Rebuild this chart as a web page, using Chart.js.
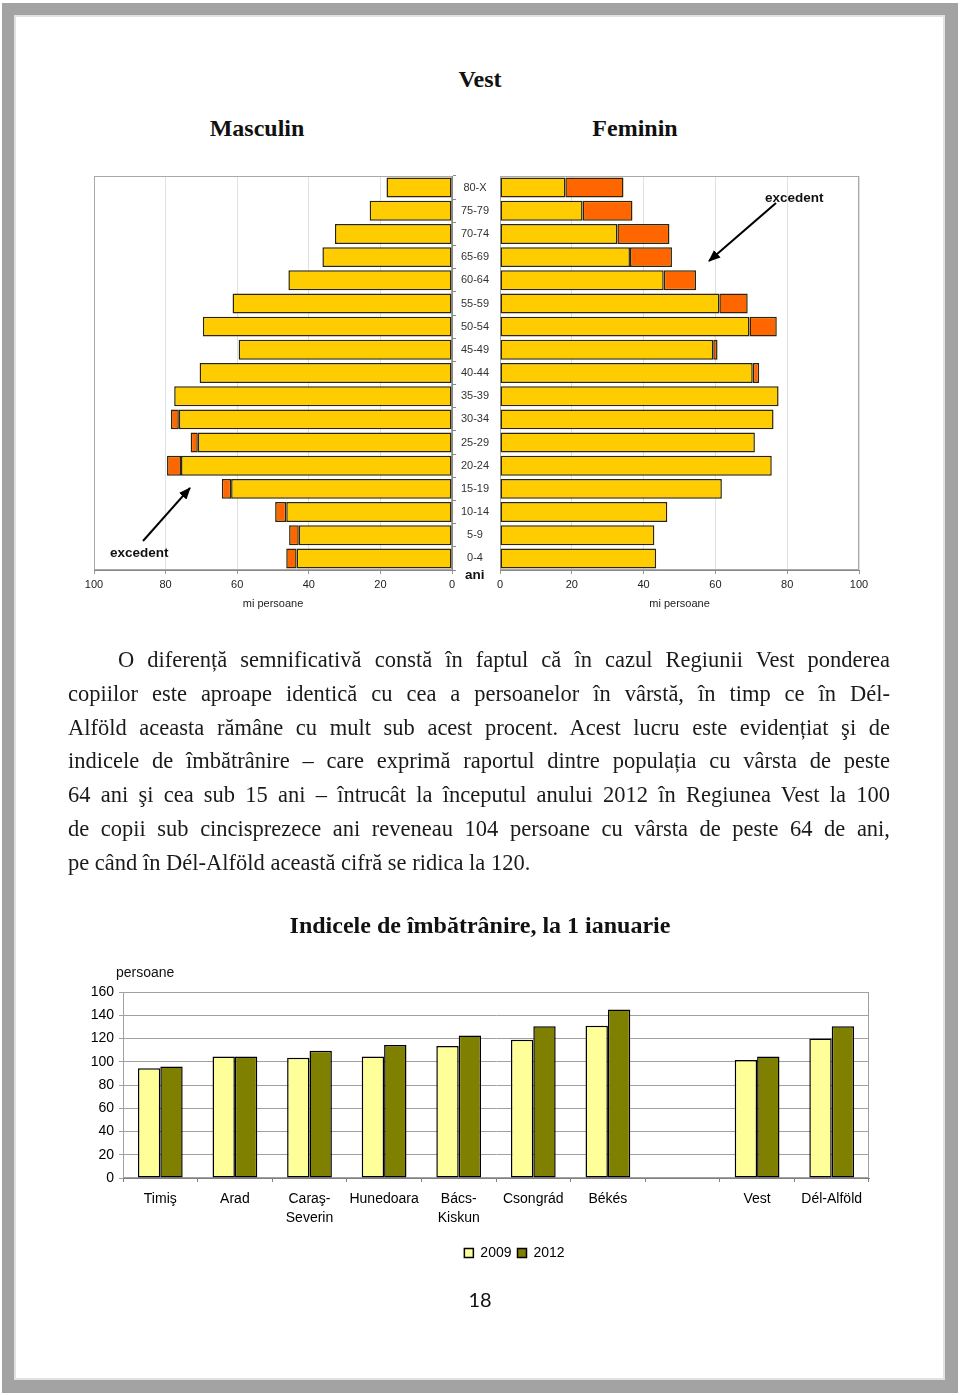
<!DOCTYPE html>
<html>
<head>
<meta charset="utf-8">
<script src="https://cdn.jsdelivr.net/npm/chart.js@4.4.1/dist/chart.umd.min.js"></script>
<style>
  html, body { margin: 0; padding: 0; background: #fff; }
  #page { position: relative; width: 960px; height: 1395px; overflow: hidden; font-family: "Liberation Sans", Arial, sans-serif; }
  .frame { position: absolute; left: 2px; top: 3px; width: 956px; height: 1390px; background: #a3a3a3; }
  .sheet { position: absolute; left: 14px; top: 15px; width: 931px; height: 1365px; background: #fff; border: 2px solid #e2e2e2; box-sizing: border-box; }
  .t { position: absolute; white-space: nowrap; }
  .head { font-family: "Liberation Serif", "Times New Roman", serif; font-weight: bold; font-size: 24px; color: #111; height: 30px; line-height: 30px; transform: translateX(-50%); }
  .note { font-family: "Liberation Sans", Arial, sans-serif; font-weight: bold; font-size: 13.5px; color: #111; height: 16px; line-height: 16px; }
  .txt { position: absolute; left: 68px; width: 822px; top: 643px; font-family: "Liberation Serif", "Times New Roman", serif; font-size: 22.5px; color: #1a1a1a; }
  .txt div { height: 33.8px; line-height: 33.8px; white-space: nowrap; text-align: justify; text-align-last: justify; }
  .txt div.first { text-indent: 50px; }
  .txt div.last { text-align: left; text-align-last: left; }
  canvas { position: absolute; }
  svg { position: absolute; left: 0; top: 0; }
</style>
</head>
<body>
<div id="page">
  <div class="frame"></div>
  <div class="sheet"></div>

  <div class="t head" style="left:480px; top:64px;">Vest</div>
  <div class="t head" style="left:257px; top:113px;">Masculin</div>
  <div class="t head" style="left:635px; top:113px;">Feminin</div>

  <canvas id="male" width="420" height="450" style="left:80px; top:165px;"></canvas>
  <canvas id="female" width="428" height="450" style="left:452px; top:165px;"></canvas>

  <div class="t note" style="left:110px; top:545px;">excedent</div>
  <div class="t note" style="left:765px; top:190px;">excedent</div>
  <div class="t note" style="left:465px; top:567px;">ani</div>

  <svg width="960" height="1395">
    <defs>
      <marker id="ah" markerWidth="12" markerHeight="10" refX="11" refY="5" orient="auto" markerUnits="userSpaceOnUse">
        <path d="M0,0 L12,5 L0,10 z" fill="#000"/>
      </marker>
    </defs>
    <line x1="143" y1="541" x2="190" y2="488" stroke="#000" stroke-width="2" marker-end="url(#ah)"/>
    <line x1="776" y1="203" x2="709" y2="261" stroke="#000" stroke-width="2" marker-end="url(#ah)"/>
  </svg>

  <div class="txt">
    <div class="first">O diferență semnificativă constă în faptul că în cazul Regiunii Vest ponderea</div>
    <div>copiilor este aproape identică cu cea a persoanelor în vârstă, în timp ce în Dél-</div>
    <div>Alföld aceasta rămâne cu mult sub acest procent. Acest lucru este evidențiat şi de</div>
    <div>indicele de îmbătrânire – care exprimă raportul dintre populația cu vârsta de peste</div>
    <div>64 ani şi cea sub 15 ani – întrucât la începutul anului 2012 în Regiunea Vest la 100</div>
    <div>de copii sub cincisprezece ani reveneau 104 persoane cu vârsta de peste 64 de ani,</div>
    <div class="last">pe când în Dél-Alföld această cifră se ridica la 120.</div>
  </div>

  <div class="t head" style="left:480px; top:910px;">Indicele de îmbătrânire, la 1 ianuarie</div>
  <div class="t" style="left:116px; top:963px; font-size:14px; line-height:18px; color:#111;">persoane</div>

  <canvas id="ageing" width="800" height="310" style="left:80px; top:960px;"></canvas>

  <div class="t" style="left:480px; top:1286px; transform:translateX(-50%); font-family:Lato, 'Open Sans', sans-serif; font-size:20px; line-height:26px; color:#111;">18</div>
</div>

<script>
// population pyramid, Vest region (thousand persons), top row first
const ageGroups = ["80-X", "75-79", "70-74", "65-69", "60-64", "55-59", "50-54", "45-49", "40-44",
                   "35-39", "30-34", "25-29", "20-24", "15-19", "10-14", "5-9", "0-4"];
const maleBase     = [18.3, 23.0, 32.7, 36.2, 45.7, 61.3, 69.6, 59.6, 70.5, 77.6, 76.3, 71.0, 75.7, 61.7, 46.3, 42.8, 43.4];
const maleExcess   = [null, null, null, null, null, null, null, null, null, null, 2.2, 2.0, 3.9, 2.6, 3.1, 2.7, 2.9];
const femaleBase   = [18.2, 23.0, 32.7, 36.2, 45.6, 61.1, 69.5, 59.4, 70.4, 77.6, 76.2, 71.0, 75.7, 61.8, 46.6, 43.0, 43.5];
const femaleExcess = [16.2, 13.9, 14.5, 11.7, 9.0, 7.9, 7.6, 1.2, 1.8, null, null, null, null, null, null, null, null];
const pyramidTicks = [0, 20, 40, 60, 80, 100];

// ageing index
const regions = ["Timiş", "Arad", ["Caraş-", "Severin"], "Hunedoara", ["Bács-", "Kiskun"], "Csongrád", "Békés", "", "Vest", "Dél-Alföld"];
const years = ["2009", "2012"];
const index2009 = [94.5, 104.5, 103.5, 104.5, 113.5, 119, 131, null, 101.5, 120];
const index2012 = [96, 104.5, 109.5, 114.5, 122.5, 130.5, 145, null, 104.5, 130.5];

const sans = '"Liberation Sans", Arial, sans-serif';

// thin box round the plot area
function frameBox(color) {
  return {
    id: 'frameBox',
    beforeDatasetsDraw(chart) {
      const a = chart.chartArea, c = chart.ctx;
      c.save();
      c.strokeStyle = color;
      c.lineWidth = 1;
      c.strokeRect(a.left + 0.5, a.top + 0.5, a.right - a.left - 1, a.bottom - a.top - 1);
      c.restore();
    }
  };
}

// age labels in the middle column
const ageLabels = {
  id: 'ageLabels',
  afterDraw(chart) {
    const { ctx, chartArea, scales } = chart;
    ctx.save();
    ctx.font = '11px ' + sans;
    ctx.fillStyle = '#333';
    ctx.textAlign = 'center';
    ctx.textBaseline = 'middle';
    ageGroups.forEach((g, i) => ctx.fillText(g, chartArea.right + 23, scales.y.getPixelForValue(i)));
    ctx.restore();
  }
};

function pyramid(id, base, excess, isLeft) {
  const bar = { borderColor: '#2e2600', borderWidth: 1.5, borderSkipped: false, barPercentage: 0.86, categoryPercentage: 1 };
  new Chart(document.getElementById(id), {
    type: 'bar',
    data: {
      labels: ageGroups,
      datasets: [
        Object.assign({ data: base, backgroundColor: '#FFCC00' }, bar),
        Object.assign({ data: excess, backgroundColor: '#FF6600' }, bar)
      ]
    },
    options: {
      indexAxis: 'y',
      responsive: false,
      animation: false,
      layout: { padding: isLeft ? { left: 14, top: 11, right: 0, bottom: 0 } : { left: 48, top: 11, right: 21, bottom: 0 } },
      plugins: { legend: { display: false }, tooltip: { enabled: false } },
      scales: {
        x: {
          stacked: true,
          reverse: isLeft,
          min: pyramidTicks[0],
          max: pyramidTicks[pyramidTicks.length - 1],
          ticks: { stepSize: 20, color: '#222', font: { family: sans, size: 11 }, padding: 4, maxRotation: 0 },
          grid: { color: '#dde1e8', tickLength: 4, tickColor: '#999' },
          border: { color: '#888' },
          title: { display: true, text: 'mi persoane', color: '#222', font: { family: sans, size: 11 }, padding: { top: 0, bottom: 4 } },
          afterFit(s) { s.height = 45; }
        },
        y: {
          stacked: true,
          position: 'right',
          display: isLeft,
          ticks: { display: false },
          grid: { drawOnChartArea: false, tickLength: 4, color: '#888' },
          border: { color: '#888' },
          afterFit(s) { if (isLeft) s.width = 48; }
        }
      }
    },
    plugins: isLeft ? [frameBox('#a8a8a8'), ageLabels] : [frameBox('#a8a8a8')]
  });
}

pyramid('male', maleBase, maleExcess, true);
pyramid('female', femaleBase, femaleExcess, false);

// move the legend to sit under the data, as in the source
const legendShift = {
  id: 'legendShift',
  afterLayout(chart) {
    chart.legend.left += 40;
    chart.legend.right += 40;
  }
};

new Chart(document.getElementById('ageing'), {
  type: 'bar',
  data: {
    labels: regions,
    datasets: [
      { label: years[0], data: index2009, backgroundColor: '#FFFF99', borderColor: '#000', borderWidth: 1.5, borderSkipped: false },
      { label: years[1], data: index2012, backgroundColor: '#808000', borderColor: '#000', borderWidth: 1.5, borderSkipped: false }
    ]
  },
  options: {
    responsive: false,
    animation: false,
    datasets: { bar: { categoryPercentage: 0.6, barPercentage: 1 } },
    layout: { padding: { left: 0, top: 32, right: 11, bottom: 0 } },
    plugins: {
      legend: { position: 'bottom', labels: { boxWidth: 9, boxHeight: 9, padding: 6, color: '#000', font: { family: sans, size: 14 } } },
      tooltip: { enabled: false }
    },
    scales: {
      x: {
        ticks: { color: '#000', font: { family: sans, size: 14, lineHeight: 1.4 }, padding: 7, maxRotation: 0, autoSkip: false },
        grid: { drawOnChartArea: false, tickLength: 4, color: '#808080' },
        border: { color: '#808080' },
        afterFit(s) { s.height = 62; }
      },
      y: {
        min: 0,
        max: 160,
        ticks: { stepSize: 20, color: '#000', font: { family: sans, size: 14 }, padding: 5 },
        grid: { color: '#a0a0a0', tickLength: 4 },
        border: { color: '#808080' },
        afterFit(s) { s.width = 43; }
      }
    }
  },
  plugins: [frameBox('#a0a0a0'), legendShift]
});
</script>
</body>
</html>
